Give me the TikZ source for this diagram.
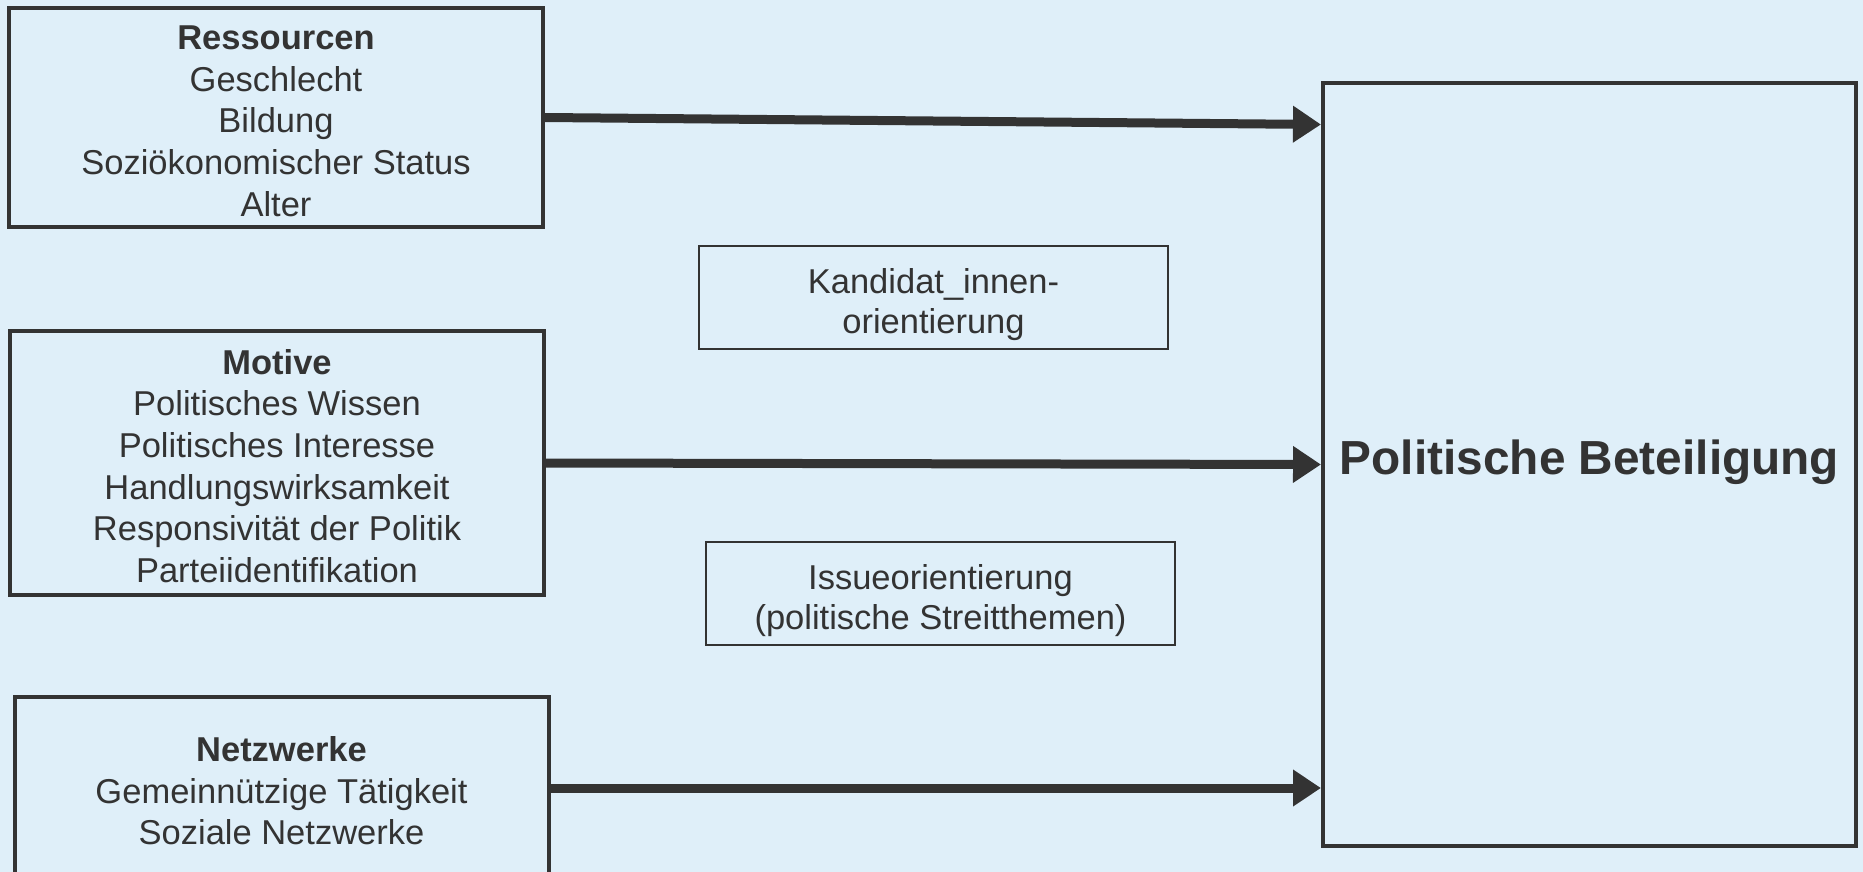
\documentclass[tikz,border=0pt]{standalone}
\usepackage{fontspec}
\setmainfont{Liberation Sans}
\usetikzlibrary{arrows.meta}
\definecolor{bgblue}{HTML}{DFEFF9}
\definecolor{ink}{HTML}{333333}
\newcommand{\facstrut}{\rule{0pt}{0.9em}}
\newcommand{\medstrut}{\rule{0pt}{1.13em}}
\tikzset{
  factor/.style={draw=ink, line width=2pt, fill=bgblue, text=ink, align=center,
    font=\fontsize{17.25}{20.8}\selectfont, inner sep=0pt, minimum width=267pt},
  mediator/.style={draw=ink, line width=0.7pt, fill=bgblue, text=ink, align=center,
    font=\fontsize{17.25}{20}\selectfont, inner sep=0pt,
    minimum width=234.5pt, minimum height=51.5pt},
  effect/.style={draw=ink, line width=4.5pt, -{Triangle[length=14pt,width=17.5pt]}}
}
\begin{document}
\begin{tikzpicture}[x=0.5pt,y=-0.5pt]
  \fill[bgblue] (0,0) rectangle (1863,872);
  \useasboundingbox (0,0) rectangle (1863,872);
  \node[factor, minimum height=109.5pt] (res) at (276,117.5)
    {\facstrut\textbf{Ressourcen}\\Geschlecht\\Bildung\\Soziökonomischer Status\\Alter};
  \node[factor, minimum height=132pt] (mot) at (277,463)
    {\facstrut\textbf{Motive}\\Politisches Wissen\\Politisches Interesse\\Handlungswirksamkeit\\Responsivität der Politik\\Parteiidentifikation};
  \begin{scope}
    \clip (0,0) rectangle (1863,872);
    \node[factor, minimum height=91pt] (net) at (281.5,788)
      {\facstrut\textbf{Netzwerke}\\Gemeinnützige Tätigkeit\\Soziale Netzwerke};
  \end{scope}
  \node[factor, minimum width=266.5pt, minimum height=381.5pt,
    font=\bfseries\fontsize{23.9}{28}\selectfont] (pb) at (1589.5,464.5)
    {Politische Beteiligung\rule[-7.4pt]{0pt}{7.4pt}};
  \node[mediator] (kand) at (933.5,297.5) {\medstrut Kandidat\_innen-\\orientierung};
  \node[mediator] (issue) at (940.5,593.5) {\medstrut Issueorientierung\\(politische Streitthemen)};
  % Pfeile
  \draw[effect] (res.east) -- ([yshift=170pt]pb.west);
  \draw[effect] (mot.east) -- (pb.west);
  \draw[effect] (net.east) -- ([yshift=-161.75pt]pb.west);
\end{tikzpicture}
\end{document}
